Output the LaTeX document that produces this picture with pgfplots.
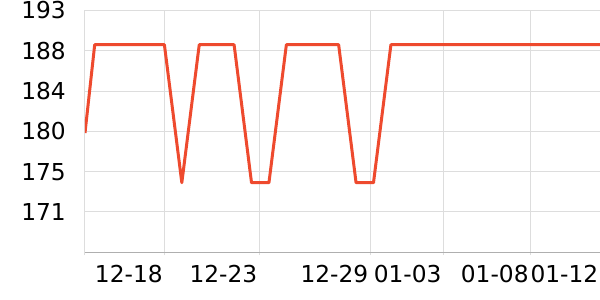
\documentclass[border=0pt]{standalone}
\usepackage{pgfplots}
\pgfplotsset{compat=1.18}
\usepackage{fontspec}
\setmainfont{DejaVu Sans}
\definecolor{linered}{RGB}{238,74,46}
\definecolor{gridgray}{RGB}{221,221,221}
\definecolor{axisgray}{RGB}{175,175,175}
\begin{document}
\begin{tikzpicture}
\path[use as bounding box] (-85bp,-47.7bp) rectangle (515bp,252.3bp);
\begin{axis}[
  at={(0,0)}, anchor=south west,
  scale only axis, width=515bp, height=241.8bp,
  xmin=-0.557, xmax=29, ymin=166.45, ymax=192.55,
  axis x line*=bottom, axis y line*=left,
  x axis line style={draw=axisgray, line width=1bp},
  y axis line style={draw=gridgray, line width=1bp},
  xtick={-0.557,4,9.43,15.8,20,25,29},
  xticklabels={,12-18,12-23,12-29,01-03,01-08,01-12},
  ytick={170.8,175.15,179.5,183.85,188.2,192.55},
  yticklabels={171,175,180,184,188,193},
  grid=major, major grid style={draw=gridgray, line width=1bp},
  xtick style={draw=gridgray, line width=1bp},
  ytick style={draw=none},
  major tick length=3bp, tick align=outside,
  tick label style={font=\fontsize{23.3bp}{27bp}\selectfont},
  xticklabel style={anchor=north east, inner sep=0pt, xshift=-1.5bp, yshift=-10bp},
  yticklabel style={anchor=east, inner sep=0pt, xshift=-16bp},
]
\addplot[linered, line width=3bp, line join=round] table {
x y
-0.557 179.33
0 188.86
1 188.86
2 188.86
3 188.86
4 188.86
5 173.96
6 188.86
7 188.86
8 188.86
9 173.96
10 173.96
11 188.86
12 188.86
13 188.86
14 188.86
15 173.96
16 173.96
17 188.86
18 188.86
19 188.86
20 188.86
21 188.86
22 188.86
23 188.86
24 188.86
25 188.86
26 188.86
27 188.86
28 188.86
29 188.86
};
\end{axis}
\end{tikzpicture}
\end{document}
